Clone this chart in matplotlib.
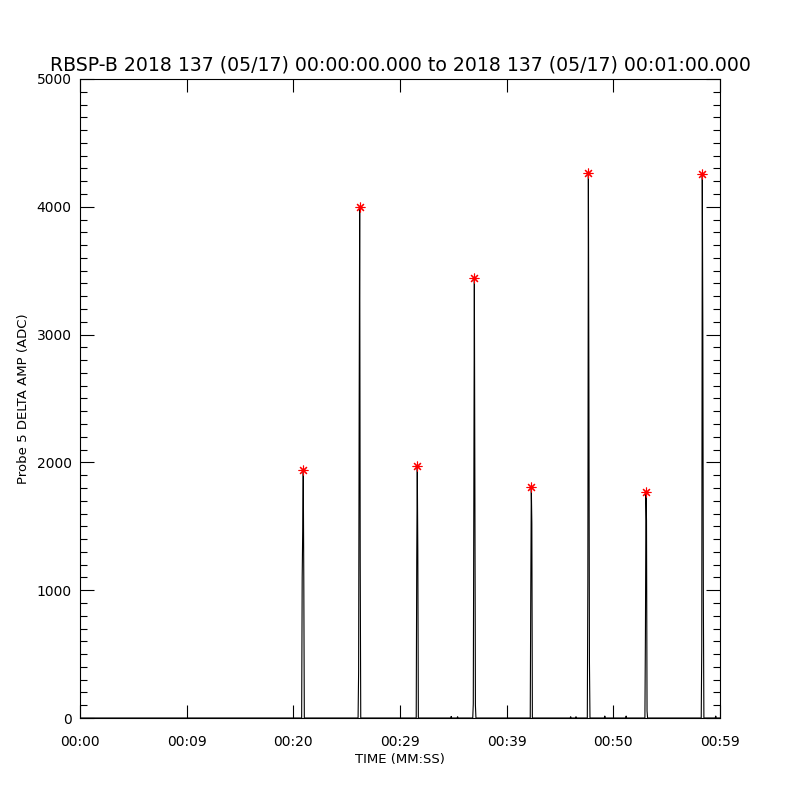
import matplotlib
matplotlib.use("Agg")
import matplotlib.pyplot as plt
from matplotlib.ticker import MultipleLocator, FixedLocator
import numpy as np

# spike peak times (seconds after 00:00:00) and the samples around each peak (ADC)
peak_times = [20.93, 26.22, 31.62, 36.97, 42.31, 47.66, 53.06, 58.34]
peak_values = [1940, 4000, 1975, 3440, 1805, 4265, 1770, 4255]
spike_samples = [
    [0, 1100, 1480, 1940, 1100, 0],
    [0, 360, 2360, 4000, 1215, 0],
    [0, 1240, 1975, 1310, 0],
    [0, 110, 1665, 3440, 1815, 100, 0],
    [0, 995, 1805, 1525, 0],
    [0, 1060, 4265, 2570, 440, 0],
    [0, 675, 1770, 1545, 55, 0],
    [0, 560, 4255, 3040, 920, 0],
]
peak_index = [3, 3, 2, 3, 2, 2, 2, 2]
dt = 0.05  # sample spacing (s)

# tiny blips near the baseline
blip_times = [34.8, 35.4, 46.0, 46.5, 49.2, 51.2, 59.6]
blip_values = [12, 10, 10, 10, 15, 15, 15]

xtick_pos = [0, 10, 20, 30, 40, 50, 60]
xtick_labels = ["00:00", "00:09", "00:20", "00:29", "00:39", "00:50", "00:59"]

title = "RBSP-B 2018 137 (05/17) 00:00:00.000 to 2018 137 (05/17) 00:01:00.000"

# build the trace
t_list = [0.0]
v_list = [0.0]
events = []
for pt, samples, pi in zip(peak_times, spike_samples, peak_index):
    ts = [pt + (k - pi) * dt for k in range(len(samples))]
    events.append((ts, samples))
for bt, bv in zip(blip_times, blip_values):
    events.append(([bt - dt, bt, bt + dt], [0, bv, 0]))
events.sort(key=lambda e: e[0][0])
for ts, vs in events:
    t_list.extend(ts)
    v_list.extend(vs)
t_list.append(60.0)
v_list.append(0.0)

fig = plt.figure(figsize=(8, 8), dpi=100)
ax = fig.add_axes([0.1, 0.1025, 0.8, 0.7988])

ax.plot(t_list, v_list, color="black", lw=0.8)
ax.plot(peak_times, peak_values, linestyle="none", marker=(8, 2, 0),
        markersize=7, markeredgecolor="#ff0000", markeredgewidth=0.8, color="#ff0000")

ax.set_xlim(0, 60)
ax.set_ylim(0, 5000)

ax.xaxis.set_major_locator(FixedLocator(xtick_pos))
ax.set_xticklabels(xtick_labels)
ax.yaxis.set_major_locator(MultipleLocator(1000))
ax.yaxis.set_minor_locator(MultipleLocator(100))

ax.tick_params(axis="x", which="major", direction="in", length=9.5, width=0.8,
               top=True, labelsize=10, pad=12)
ax.tick_params(axis="y", which="major", direction="in", length=10, width=0.8,
               right=True, labelsize=10, pad=6)
ax.tick_params(axis="y", which="minor", direction="in", length=5, width=0.8, right=True)

for sp in ax.spines.values():
    sp.set_linewidth(0.8)

ax.set_title(title, fontsize=13.6, pad=6)
ax.set_xlabel("TIME (MM:SS)", fontsize=9.5, labelpad=3)
ax.set_ylabel("Probe 5 DELTA AMP (ADC)", fontsize=9.5, labelpad=5)

fig.savefig("out.png", dpi=100)
